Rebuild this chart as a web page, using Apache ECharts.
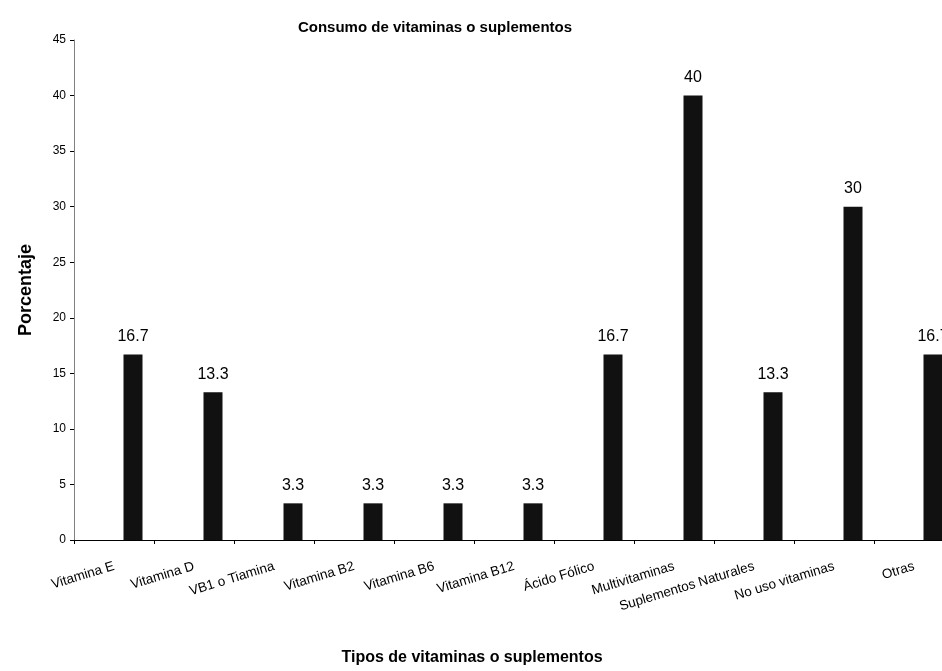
<!DOCTYPE html>
<html>
<head>
<meta charset="utf-8">
<script src="https://cdn.jsdelivr.net/npm/echarts@6/dist/echarts.min.js"></script>
<style>
  html, body { margin: 0; padding: 0; background: #fff; overflow: hidden; }
  /* the drawing runs a little past the right edge of the window */
  #wrap { width: 942px; height: 671px; overflow: hidden; }
  #chart { width: 954px; height: 671px; }
</style>
</head>
<body>
<div id="wrap"><div id="chart"></div></div>
<script>
// Categories and percentages
const categorias = [
  'Vitamina E', 'Vitamina D', 'VB1 o Tiamina', 'Vitamina B2', 'Vitamina B6',
  'Vitamina B12', 'Ácido Fólico', 'Multivitaminas', 'Suplementos Naturales',
  'No uso vitaminas', 'Otras'
];
const porcentajes = [16.7, 13.3, 3.3, 3.3, 3.3, 3.3, 16.7, 40, 13.3, 30, 16.7];
const ticksY = [0, 5, 10, 15, 20, 25, 30, 35, 40, 45];

const FONT = "'Liberation Sans', Arial, Helvetica, sans-serif";

// The workbook had three series per category; only the last one holds values.
const vacia = categorias.map(() => '-');

const chart = echarts.init(document.getElementById('chart'), null, { renderer: 'canvas' });
chart.setOption({
  animation: false,
  backgroundColor: '#ffffff',
  title: {
    text: 'Consumo de vitaminas o suplementos',
    left: 430, top: 15, textAlign: 'center',
    textStyle: { fontFamily: FONT, fontSize: 15, fontWeight: 'bold', color: '#000' }
  },
  grid: { left: 74, right: 0, top: 40, bottom: 130, containLabel: false },
  xAxis: {
    type: 'category',
    data: categorias,
    name: 'Tipos de vitaminas o suplementos',
    nameLocation: 'middle',
    nameGap: 110,
    nameTextStyle: {
      fontFamily: FONT, fontSize: 16, fontWeight: 'bold', color: '#000',
      padding: [0, 84, 0, 0]
    },
    axisLine: { lineStyle: { color: '#000', width: 1 } },
    axisTick: { show: true, inside: false, length: 4, lineStyle: { color: '#000' } },
    axisLabel: {
      rotate: 17, fontFamily: FONT, fontSize: 13.5, color: '#000', margin: 26, interval: 0
    },
    splitLine: { show: false }
  },
  yAxis: {
    type: 'value',
    min: ticksY[0], max: ticksY[ticksY.length - 1], interval: 5,
    name: 'Porcentaje',
    nameLocation: 'middle',
    nameGap: 39,
    nameRotate: 90,
    nameTextStyle: { fontFamily: FONT, fontSize: 18, fontWeight: 'bold', color: '#000' },
    axisLine: { show: true, lineStyle: { color: '#808080', width: 1 } },
    axisTick: { show: true, inside: false, length: 4, lineStyle: { color: '#000' } },
    axisLabel: { fontFamily: FONT, fontSize: 12, color: '#000', margin: 8 },
    splitLine: { show: false }
  },
  series: [
    { name: 'serie1', type: 'bar', data: vacia, barWidth: 19, barGap: '0%' },
    { name: 'serie2', type: 'bar', data: vacia, barWidth: 19, barGap: '0%' },
    {
      name: 'serie3', type: 'bar', data: porcentajes, barWidth: 19, barGap: '0%',
      itemStyle: { color: '#111111' },
      label: {
        show: true, position: 'top', distance: 10,
        fontFamily: FONT, fontSize: 16, color: '#000'
      }
    }
  ]
});
</script>
</body>
</html>
